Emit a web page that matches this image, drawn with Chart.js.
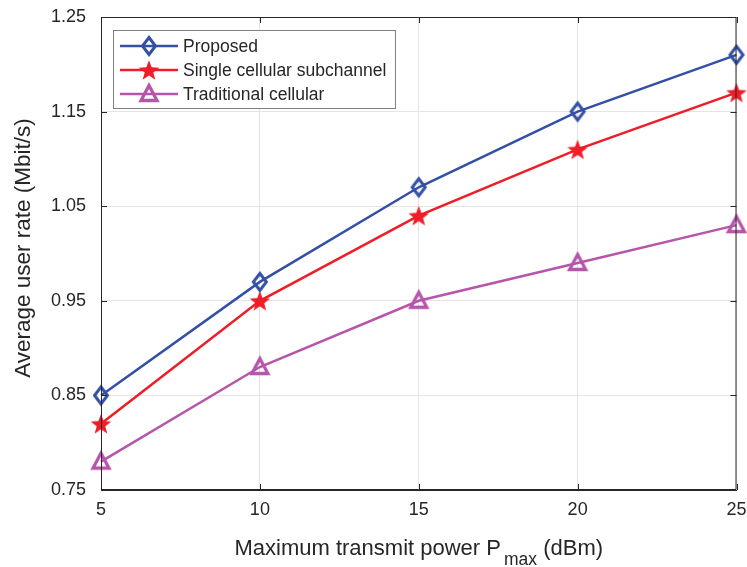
<!DOCTYPE html>
<html>
<head>
<meta charset="utf-8">
<script src="https://cdn.jsdelivr.net/npm/chart.js@4.4.1/dist/chart.umd.min.js"></script>
<style>
  html, body { margin: 0; padding: 0; background: #fff; }
</style>
</head>
<body>
<canvas id="rateChart" width="747" height="567"></canvas>
<script>
// data
const powerLevels = [5, 10, 15, 20, 25];
const proposedRate = [0.85, 0.97, 1.07, 1.15, 1.21];
const singleSubchannelRate = [0.82, 0.95, 1.04, 1.11, 1.17];
const traditionalRate = [0.78, 0.88, 0.95, 0.99, 1.03];
const xTickValues = [5, 10, 15, 20, 25];
const yTickValues = [0.75, 0.85, 0.95, 1.05, 1.15, 1.25];
const seriesNames = ['Proposed', 'Single cellular subchannel', 'Traditional cellular'];

const colors = {
  blue: '#3450a4',
  red: '#ee1d27',
  magenta: '#b655a9',
  text: '#262626',
  grid: '#e4e4e4'
};
const fontFamily = '"Liberation Sans", Arial, Helvetica, sans-serif';

// marker images, used both on the lines and in the legend
function makeMarker(kind, color) {
  const c = document.createElement('canvas');
  c.width = 28; c.height = 28;
  const g = c.getContext('2d');
  const cx = 14, cy = 14;
  g.strokeStyle = color;
  g.fillStyle = color;
  g.lineWidth = 3;
  g.lineJoin = 'miter';
  g.beginPath();
  if (kind === 'diamond') {
    g.moveTo(cx, cy - 8.5);
    g.lineTo(cx + 6.5, cy);
    g.lineTo(cx, cy + 8.5);
    g.lineTo(cx - 6.5, cy);
    g.closePath();
    g.stroke();
  } else if (kind === 'star') {
    const outer = 10.8, inner = 4.5;
    for (let i = 0; i < 10; i++) {
      const r = i % 2 === 0 ? outer : inner;
      const a = -Math.PI / 2 + i * Math.PI / 5;
      const px = cx + r * Math.cos(a), py = cy + 1 + r * Math.sin(a);
      if (i === 0) g.moveTo(px, py); else g.lineTo(px, py);
    }
    g.closePath();
    g.fill();
  } else {
    g.lineWidth = 3.3;
    g.moveTo(cx, cy - 8.5);
    g.lineTo(cx + 8, cy + 6.5);
    g.lineTo(cx - 8, cy + 6.5);
    g.closePath();
    g.stroke();
  }
  return c;
}

const markers = [
  makeMarker('diamond', colors.blue),
  makeMarker('star', colors.red),
  makeMarker('triangle', colors.magenta)
];
const seriesColors = [colors.blue, colors.red, colors.magenta];
const seriesValues = [proposedRate, singleSubchannelRate, traditionalRate];

function buildDataset(i) {
  return {
    label: seriesNames[i],
    data: powerLevels.map((p, k) => ({x: p, y: seriesValues[i][k]})),
    borderColor: seriesColors[i],
    backgroundColor: 'transparent',
    borderWidth: 2.5,
    pointStyle: markers[i],
    pointRadius: 8,
    tension: 0,
    clip: false
  };
}

// no extra room for the end tick labels, the layout padding handles it
function noScalePadding(s) {
  s.paddingLeft = 0; s.paddingRight = 0; s.paddingTop = 0; s.paddingBottom = 0;
}

// box, inward ticks, axis titles and legend in the matlab style
const matlabLook = {
  id: 'matlabLook',
  afterDatasetsDraw(chart) {
    const ctx = chart.ctx;
    const area = chart.chartArea;
    const xs = chart.scales.x, ys = chart.scales.y;
    ctx.save();
    ctx.strokeStyle = colors.text;
    ctx.lineWidth = 1;
    ctx.beginPath();
    ctx.rect(area.left + 0.5, area.top + 0.5, area.right - area.left - 1, area.bottom - area.top - 1);
    ctx.stroke();
    const tl = 6;
    ctx.beginPath();
    xTickValues.forEach(v => {
      const px = Math.round(xs.getPixelForValue(v)) + 0.5;
      ctx.moveTo(px, area.bottom); ctx.lineTo(px, area.bottom - tl);
      ctx.moveTo(px, area.top); ctx.lineTo(px, area.top + tl);
    });
    yTickValues.forEach(v => {
      const py = Math.round(ys.getPixelForValue(v)) + 0.5;
      ctx.moveTo(area.left, py); ctx.lineTo(area.left + tl, py);
      ctx.moveTo(area.right, py); ctx.lineTo(area.right - tl, py);
    });
    ctx.stroke();

    // legend
    const lx = 113.5, ly = 30.5, lw = 282, lh = 78;
    ctx.fillStyle = '#ffffff';
    ctx.fillRect(lx, ly, lw, lh);
    ctx.strokeStyle = '#808080';
    ctx.strokeRect(lx, ly, lw, lh);
    ctx.font = '17.5px ' + fontFamily;
    ctx.textBaseline = 'middle';
    ctx.textAlign = 'left';
    seriesNames.forEach((name, i) => {
      const ry = 46 + i * 24;
      ctx.strokeStyle = seriesColors[i];
      ctx.lineWidth = 2.5;
      ctx.beginPath();
      ctx.moveTo(120, ry); ctx.lineTo(178, ry);
      ctx.stroke();
      ctx.drawImage(markers[i], 149 - markers[i].width / 2, ry - markers[i].height / 2);
      ctx.fillStyle = colors.text;
      ctx.fillText(name, 183, ry + 1);
    });

    // axis titles
    ctx.fillStyle = colors.text;
    ctx.save();
    ctx.translate(24, 248);
    ctx.rotate(-Math.PI / 2);
    ctx.textAlign = 'center';
    ctx.font = '22.5px ' + fontFamily;
    ctx.fillText('Average user rate (Mbit/s)', 0, 0);
    ctx.restore();

    const mainText = 'Maximum transmit power P', subText = 'max', tailText = ' (dBm)';
    const subGap = 3;
    ctx.textBaseline = 'alphabetic';
    ctx.font = '22px ' + fontFamily;
    const w1 = ctx.measureText(mainText).width, w3 = ctx.measureText(tailText).width;
    ctx.font = '17.5px ' + fontFamily;
    const w2 = ctx.measureText(subText).width + subGap;
    let tx = (area.left + area.right) / 2 - (w1 + w2 + w3) / 2;
    ctx.font = '22px ' + fontFamily;
    ctx.fillText(mainText, tx, 555);
    ctx.font = '17.5px ' + fontFamily;
    ctx.fillText(subText, tx + w1 + subGap, 565);
    ctx.font = '22px ' + fontFamily;
    ctx.fillText(tailText, tx + w1 + w2, 555);
    ctx.restore();
  }
};

function setupChart() {
  const ctx = document.getElementById('rateChart').getContext('2d');
  new Chart(ctx, {
    type: 'line',
    data: {
      datasets: [buildDataset(0), buildDataset(1), buildDataset(2)]
    },
    options: {
      responsive: false,
      animation: false,
      layout: {padding: {left: 0, right: 9, top: 17, bottom: 0}},
      plugins: {
        legend: {display: false},
        tooltip: {enabled: false}
      },
      scales: {
        x: {
          type: 'linear',
          min: 5,
          max: 25,
          afterBuildTicks: s => { s.ticks = xTickValues.map(v => ({value: v})); },
          afterFit: s => { s.height = 77; noScalePadding(s); },
          grid: {color: colors.grid, drawTicks: false},
          border: {color: colors.text},
          ticks: {
            color: colors.text,
            padding: 9,
            maxRotation: 0,
            font: {family: fontFamily, size: 18}
          }
        },
        y: {
          type: 'linear',
          min: 0.75,
          max: 1.25,
          afterBuildTicks: s => { s.ticks = yTickValues.map(v => ({value: v})); },
          afterFit: s => { s.width = 101; noScalePadding(s); },
          grid: {color: colors.grid, drawTicks: false},
          border: {color: colors.text},
          ticks: {
            color: colors.text,
            padding: 15,
            font: {family: fontFamily, size: 18},
            callback: v => Number(v).toFixed(2)
          }
        }
      }
    },
    plugins: [matlabLook]
  });
}

setupChart();
</script>
</body>
</html>
